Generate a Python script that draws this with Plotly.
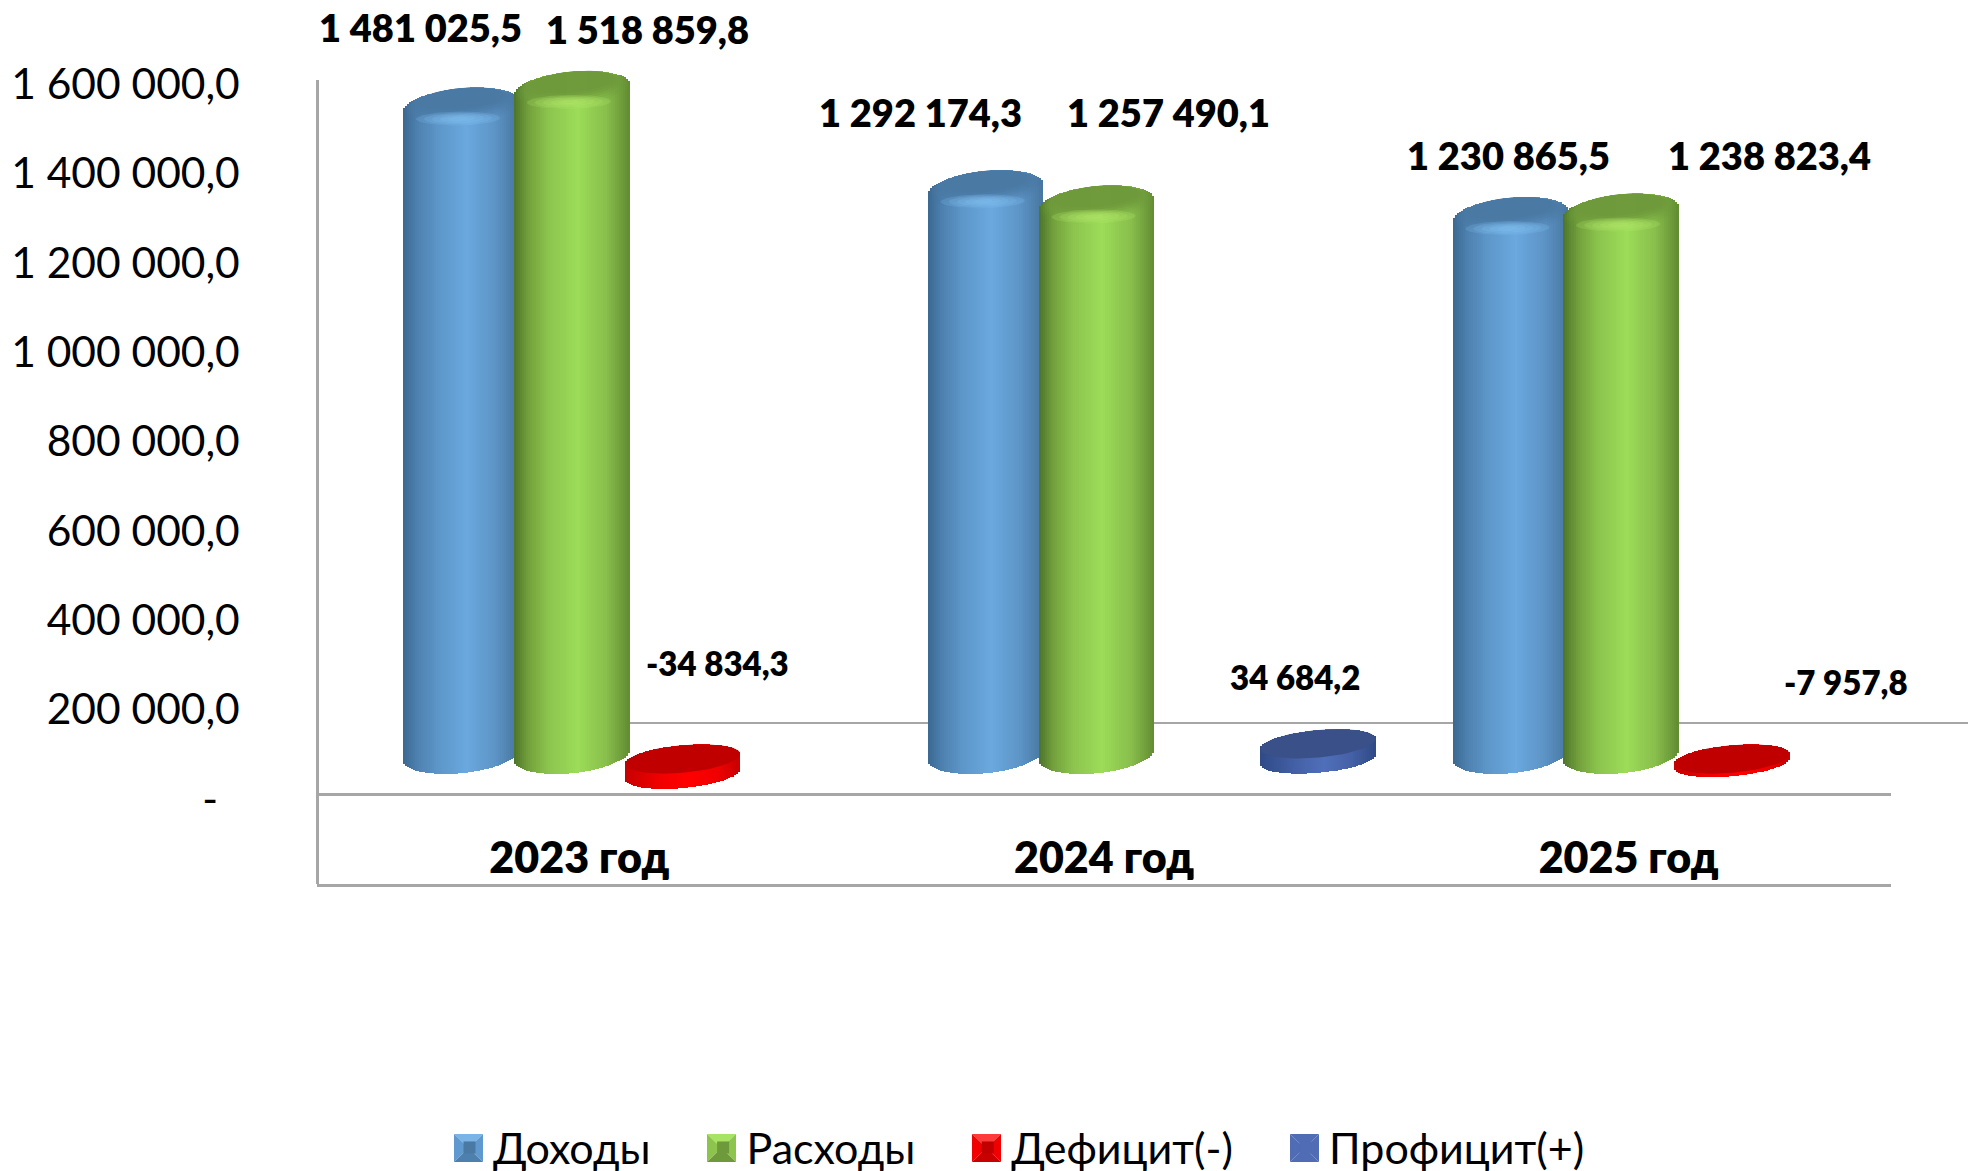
import math
import plotly.graph_objects as go

# ---------- data ----------
years = ["2023 год", "2024 год", "2025 год"]
income = [1481025.5, 1292174.3, 1230865.5]
expense = [1518859.8, 1257490.1, 1238823.4]
deficit = [-34834.3, None, -7957.8]
profit = [None, 34684.2, None]
y_ticks = [-200000, 0, 200000, 400000, 600000, 800000, 1000000, 1200000, 1400000, 1600000]
y_labels = ["-200 000,0", "-\u00a0\u00a0", "200 000,0", "400 000,0", "600 000,0", "800 000,0",
            "1 000 000,0", "1 200 000,0", "1 400 000,0", "1 600 000,0"]
pad = "\u00a0" * 4
names = ["Доходы" + pad, "Расходы" + pad, "Дефицит(-)" + pad, "Профицит(+)"]

# ---------- label placement (px shift from group centre and value) ----------
label_shift = [
    [(-159, 79), (-184, 77), (-120, 61)],
    [(68, 61), (64, 92), (141, 57)],
    [(138, 107), None, (217, 76)],
    [None, (191, 63), None],
]
FONT = "Lato, 'Noto Sans', sans-serif"

W, H = 1968, 1171
AX_L, AX_R, AX_T, AX_B = 317, 1891, 80, 884
ZERO_PX = 755
K = 87.6 / 200000          # px per value unit on the drawing axes
GROUP = (AX_R - AX_L) / 3  # px per category
SLOT0, SLOT = 0.2745, 0.2112  # first slot centre and slot step, in category units

# colour ramps across the cylinder, left to right
ramp = {
    0: [(0, "#3a6890"), (0.12, "#4d80ae"), (0.3, "#5d96c9"), (0.55, "#6aa8de"), (0.8, "#5d94c6"), (1, "#47769f")],
    1: [(0, "#4c7329"), (0.12, "#729f3c"), (0.3, "#8cc44e"), (0.55, "#9cdc58"), (0.8, "#89bf4c"), (1, "#628c33")],
    2: [(0, "#c80000"), (0.3, "#f00000"), (0.55, "#ff0000"), (0.8, "#f00000"), (1, "#c80000")],
    3: [(0, "#2f4a86"), (0.3, "#4460a6"), (0.55, "#506fba"), (0.8, "#4460a6"), (1, "#2f4a86")],
}
base_col = ["#4a79a3", "#6f9a3c", "#c00000", "#4f6cb4"]
cap_col = ["#4a79a3", "#6f9a3c", "#c00000", "#3a5088"]
series = [income, expense, deficit, profit]


def hex2rgb(c):
    return tuple(int(c[i:i + 2], 16) for i in (1, 3, 5))


def shade(stops, t):
    for (t0, c0), (t1, c1) in zip(stops, stops[1:]):
        if t <= t1:
            f = (t - t0) / (t1 - t0)
            a, b = hex2rgb(c0), hex2rgb(c1)
            return "rgb(%d,%d,%d)" % tuple(round(a[i] + (b[i] - a[i]) * f) for i in range(3))
    return stops[-1][1]


def ellipse(cx_u, cy_v, a, b, s, n=72):
    xs, ys = [], []
    for i in range(n + 1):
        t = 2 * math.pi * i / n
        xs.append(cx_u + a * math.cos(t) / GROUP)
        ys.append(cy_v + (b * math.sin(t) + s * math.cos(t)) / K)
    return xs, ys


def poly_trace(polys, color, xa, ya):
    xs, ys = [], []
    for px, py in polys:
        xs += px + [None]
        ys += py + [None]
    return go.Scatter(x=xs, y=ys, xaxis=xa, yaxis=ya, mode="lines", line=dict(width=0),
                      fill="toself", fillcolor=color, hoverinfo="skip", showlegend=False)


fig = go.Figure()

# invisible carrier that keeps the tick axis subplot alive
fig.add_trace(go.Scatter(x=years, y=[0, 0, 0], xaxis="x", yaxis="y", mode="lines",
                         line=dict(width=0), hoverinfo="skip", showlegend=False))

# real bars, placed in their slots
for si, vals in enumerate(series):
    fig.add_trace(go.Bar(x=years, y=vals, name=names[si], xaxis="x", yaxis="y2",
                         width=0.17, offset=SLOT0 + si * SLOT - 0.5 - 0.085,
                         marker=dict(color=base_col[si], line=dict(width=0))))

# shading overlays
cap_alpha = [0.10, 0.18, 0.25, 0.35, 0.45, 0.6, 0.85]
for si, vals in enumerate(series):
    xa, ya = "x%d" % (si + 2), "y%d" % (si + 3)
    a = 57.5
    disc = si >= 2
    b, s = (13.8, 5.0) if disc else (18.2, 5.3)
    shift = -4 / K if disc else 0
    sx, sb, sh, sc = [], [], [], []
    tops = []
    for gi, v in enumerate(vals):
        if v is None:
            continue
        cx = gi + SLOT0 + si * SLOT
        hi, lo = max(v, 0) + shift, min(v, 0) + shift
        tops.append((cx, hi))
        n = 57
        for j in range(n):
            u = -1 + (j + 0.5) * 2 / n
            r = math.sqrt(max(0, 1 - u * u))
            top = hi + (b * r + s * u) / K
            bot = lo + (-b * r + s * u) / K
            sx.append(cx + u * a / GROUP)
            sb.append(bot)
            sh.append(top - bot)
            sc.append(shade(ramp[si], (u + 1) / 2))
    w = 2 * a / 57 / GROUP * 1.25
    fig.add_trace(go.Bar(x=sx, y=sh, base=sb, xaxis=xa, yaxis=ya, width=w, offset=-w / 2,
                         marker=dict(color=sc, line=dict(width=0)), hoverinfo="skip", showlegend=False))
    if disc:
        polys = [ellipse(cx, hi, a, b, s) for cx, hi in tops]
        fig.add_trace(poly_trace(polys, cap_col[si], xa, ya))
    else:
        L = len(cap_alpha)
        rgb = hex2rgb(cap_col[si])
        for i in range(L):
            f = i / (L - 1)
            polys = [ellipse(cx, hi + b * f * 0.42 / K, a * (1 - f * 0.28), b * (1 - f * 0.42), s * (1 - f * 0.3))
                     for cx, hi in tops]
            fig.add_trace(poly_trace(polys, "rgba(%d,%d,%d,%.2f)" % (*rgb, cap_alpha[i]), xa, ya))
        glow = "#86c6f8" if si == 0 else "#b8f070"
        g = hex2rgb(glow)
        for i in range(5):
            polys = [ellipse(cx - 3 / GROUP, hi - (b - 6) / K, 42 - 8 * i, 7 - 1.2 * i, 0.6) for cx, hi in tops]
            fig.add_trace(poly_trace(polys, "rgba(%d,%d,%d,0.20)" % g, xa, ya))

# value labels
for si, vals in enumerate(series):
    size = 38 if si < 2 else 33
    for gi, v in enumerate(vals):
        if v is None:
            continue
        txt = f"{v:,.1f}".replace(",", " ").replace(".", ",")
        dx, dy = label_shift[si][gi]
        fig.add_annotation(x=years[gi], y=v, xref="x", yref="y2", text=txt, showarrow=False,
                           xshift=dx, yshift=dy, font=dict(family=FONT, size=size, color="black", weight=800))

# back wall line
fig.add_shape(type="line", xref="paper", yref="paper", layer="below",
              x0=600 / W, x1=1, y0=1 - 723 / H, y1=1 - 723 / H, line=dict(color="#a6a6a6", width=2))

# legend swatches
sw = [(454, 0), (707, 1), (972, 2), (1290, 3)]
bevel = {
    0: ("#7ab4e6", "#5f99cf", "#4d80ae"),
    1: ("#a8e463", "#8cc44e", "#6f9a3c"),
    2: ("#ff3a3a", "#f00000", "#c80000"),
    3: ("#4f6cb4", "#4f6cb4", "#4f6cb4"),
}
for x0, si in sw:
    x1, y0, y1 = x0 + 29, 1134, 1162
    cx, cy = (x0 + x1) / 2, (y0 + y1) / 2
    top, side, bot = bevel[si]
    tris = [
        ((x0, y0), (x1, y0), top),
        ((x0, y0), (x0, y1), side),
        ((x1, y0), (x1, y1), side),
        ((x0, y1), (x1, y1), bot),
    ]
    for p, q, c in tris:
        path = "M%f,%f L%f,%f L%f,%f Z" % (p[0] / W, 1 - p[1] / H, q[0] / W, 1 - q[1] / H, cx / W, 1 - cy / H)
        fig.add_shape(type="path", xref="paper", yref="paper", path=path, fillcolor=c, line=dict(width=0), layer="above")

dom_x = [AX_L / W, AX_R / W]
rng = [(ZERO_PX - H) / K, ZERO_PX / K]
layout = dict(
    width=W, height=H, margin=dict(l=0, r=0, t=0, b=0, autoexpand=False), paper_bgcolor="white",
    plot_bgcolor="rgba(0,0,0,0)", barmode="overlay", bargap=0, showlegend=True,
    legend=dict(orientation="h", x=446 / W, y=1 - 1113 / H, xanchor="left", yanchor="top", bgcolor="rgba(0,0,0,0)",
                itemwidth=37, font=dict(family=FONT, size=43, color="black"), itemclick=False, itemdoubleclick=False),
    xaxis=dict(domain=dom_x, anchor="y", type="category", categoryorder="array", categoryarray=years,
               range=[-0.5, 2.5], showgrid=False, showline=True, linecolor="#a6a6a6", linewidth=2.5,
               ticks="", ticklabelposition="inside", zeroline=False, ticklabelstandoff=8,
               tickfont=dict(family=FONT, size=43, color="black", weight=800)),
    yaxis=dict(domain=[1 - AX_B / H, 1 - AX_T / H], anchor="free", position=AX_L / W, range=[-200000, 1600000],
               tickmode="array", tickvals=y_ticks, ticktext=y_labels, showgrid=False,
               showline=True, linecolor="#a6a6a6", linewidth=2.5, zeroline=True, zerolinecolor="#a6a6a6",
               zerolinewidth=2.5, ticks="", ticklabelstandoff=68, ticklabelshift=4,
               tickfont=dict(family=FONT, size=42.5, color="black")),
    yaxis2=dict(domain=[0, 1], anchor="x", range=rng, visible=False),
)
for si in range(4):
    layout["xaxis%d" % (si + 2)] = dict(domain=dom_x, anchor="y%d" % (si + 3), range=[0, 3], visible=False)
    layout["yaxis%d" % (si + 3)] = dict(domain=[0, 1], anchor="x%d" % (si + 2), range=rng, visible=False)
fig.update_layout(**layout)

fig.write_html("out.html", config=dict(displayModeBar=False),
               post_script="document.body.style.margin='0';document.body.style.overflow='hidden';")
